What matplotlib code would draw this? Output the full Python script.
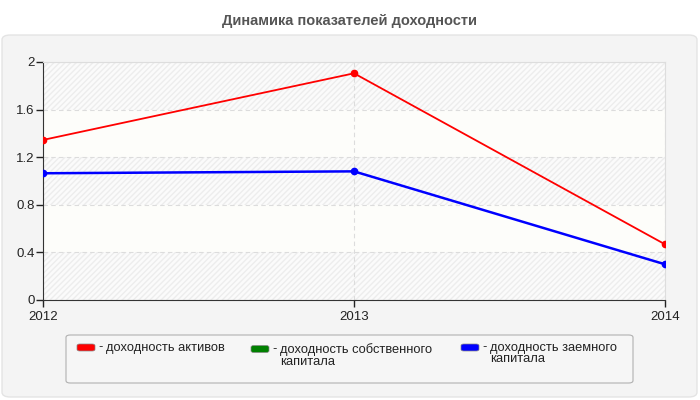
import matplotlib.pyplot as plt
from matplotlib.patches import FancyBboxPatch

plt.rcParams['font.family'] = ['Liberation Sans', 'DejaVu Sans']

# data
years = [2012, 2013, 2014]
assets = [1.345, 1.905, 0.468]
borrowed = [1.065, 1.081, 0.30]
title = 'Динамика показателей доходности'
labels = ['доходность активов', 'доходность собственного\nкапитала',
          'доходность заемного\nкапитала']
colors = ['#ff0000', '#008000', '#0000ff']

W, H = 700, 400
fig = plt.figure(figsize=(7, 4), dpi=100)
fig.patch.set_facecolor('white')

# grey panel behind chart + legend
panel = FancyBboxPatch((2 / W, 3 / H), 695 / W, 362 / H,
                       boxstyle='round,pad=0,rounding_size=0.012',
                       transform=fig.transFigure, facecolor='#f4f4f4',
                       edgecolor='#e4e4e4', lw=1, zorder=-5)
fig.patches.append(panel)

fig.text(0.5, 1 - 21 / H, title, ha='center', va='center', fontsize=10.5,
         fontweight='bold', color='#555555')

ax = fig.add_axes([43 / W, 100 / H, 622 / W, 238 / H])
ax.set_zorder(2)
ax.set_facecolor('#fdfdfa')
# alternating hatched bands
for lo in [0, 0.8, 1.6]:
    ax.axhspan(lo, lo + 0.4, facecolor='#fbfbfb', edgecolor='#ededed',
               hatch='//////', lw=0, zorder=0)

ax.plot(years, assets, color=colors[0], lw=1.3, marker='o', ms=4.5, zorder=3)
ax.plot(years, borrowed, color=colors[2], lw=1.8, marker='o', ms=4.5, zorder=3)

ax.set_xlim(2012, 2014)
ax.set_ylim(0, 2)
ax.set_xticks(years)
ax.set_xticklabels([str(y) for y in years])
ax.set_yticks([0, 0.4, 0.8, 1.2, 1.6, 2])
ax.set_yticklabels(['0', '0.4', '0.8', '1.2', '1.6', '2'])
ax.tick_params(labelsize=9.5, colors='#222222', length=5, width=1, pad=1)
ax.tick_params(axis='x', pad=3)
ax.grid(True, ls=(0, (4, 3)), color='#dcdcdc', lw=0.8)
ax.set_axisbelow(True)
for s in ['top', 'right']:
    ax.spines[s].set_color('#dddddd')
for s in ['left', 'bottom']:
    ax.spines[s].set_color('#333333')

# legend box
lg = FancyBboxPatch((66 / W, 1 - 383 / H), 567 / W, 48 / H,
                    boxstyle='round,pad=0,rounding_size=0.006',
                    transform=fig.transFigure, facecolor='#f6f6f6',
                    edgecolor='#b0b0b0', lw=0.8, zorder=1)
fig.patches.append(lg)

entries = [(77, 347.5, labels[0]), (251, 349, labels[1]), (461, 347.5, labels[2])]
for (x, y, lab), c in zip(entries, colors):
    fig.patches.append(FancyBboxPatch((x / W, 1 - (y + 3.5) / H), 18 / W, 7 / H,
                                      boxstyle='round,pad=0,rounding_size=0.004',
                                      transform=fig.transFigure, facecolor=c,
                                      edgecolor='#888888', lw=0.5, zorder=2))
    fig.text((x + 21) / W, 1 - (y - 6) / H, '-', ha='left', va='top',
             fontsize=9.3, color='#222222')
    fig.text((x + 29) / W, 1 - (y - 6) / H, lab, ha='left', va='top',
             fontsize=9.3, color='#222222', linespacing=1.0)

fig.savefig('out.png', dpi=100)
